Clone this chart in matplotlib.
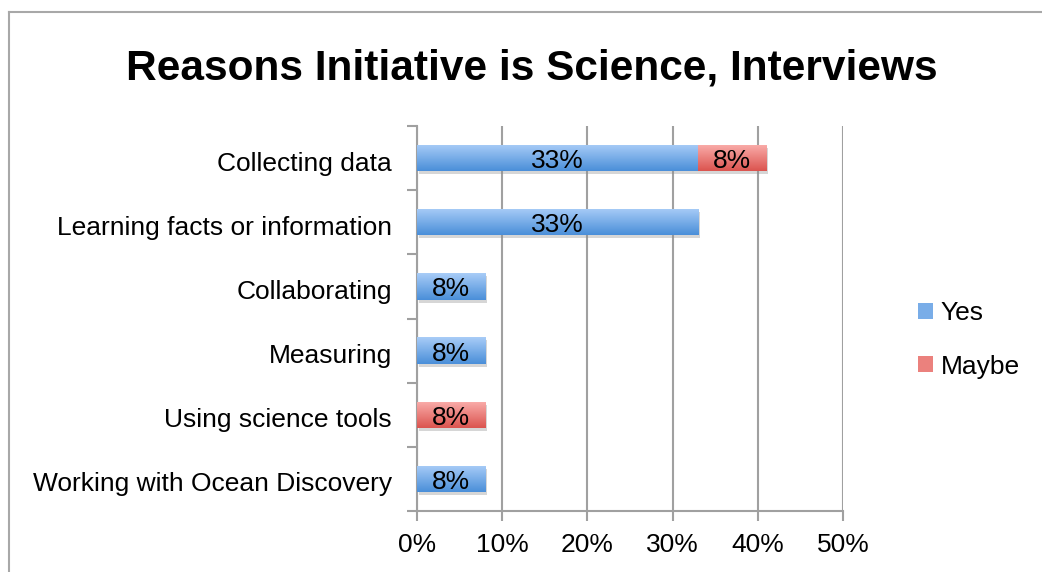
import numpy as np
import matplotlib
matplotlib.use("Agg")
from matplotlib import pyplot as plt
from matplotlib import transforms
from matplotlib.lines import Line2D
from matplotlib.patches import Patch

# data, top to bottom
categories = [
    "Collecting data",
    "Learning facts or information",
    "Collaborating",
    "Measuring",
    "Using science tools",
    "Working with Ocean Discovery",
]
yes = [33, 33, 8, 8, 0, 8]
maybe = [8, 0, 0, 0, 8, 0]
xticks = [0, 10, 20, 30, 40, 50]

plt.rcParams["font.family"] = ["Liberation Sans", "DejaVu Sans"]

blue_top, blue_bot = np.array([0.66, 0.80, 0.97]), np.array([0.29, 0.56, 0.85])
red_top, red_bot = np.array([0.98, 0.68, 0.67]), np.array([0.86, 0.33, 0.31])
grid_col = "#a0a0a0"
fs = 19

fig = plt.figure(figsize=(10.42, 5.72), dpi=100)
ax = fig.add_axes([417 / 1042, 1 - 511 / 572, 426 / 1042, 385 / 572])

y = np.arange(len(categories))
h = 0.41
text_tr = transforms.offset_copy(ax.transData, fig=fig, x=0, y=-3, units="dots")


def grad_bar(left, width, yc, c_top, c_bot):
    if width <= 0:
        return
    # soft shadow under the bar
    shadow_tr = transforms.offset_copy(ax.transData, fig=fig, x=2, y=-3, units="dots")
    ax.barh(yc, width, left=left, height=h, color="0.55", alpha=0.35,
            transform=shadow_tr, zorder=2, linewidth=0)
    bar = ax.barh(yc, width, left=left, height=h, color="none", linewidth=0, zorder=3)[0]
    t = np.linspace(0, 1, 64)[:, None]
    img = (c_top * (1 - t) + c_bot * t)[:, None, :]
    im = ax.imshow(img, extent=[left, left + width, yc + h / 2, yc - h / 2],
                   aspect="auto", origin="upper", zorder=3, interpolation="bilinear")
    im.set_clip_path(bar)
    ax.text(left + width / 2, yc, f"{width}%", ha="center", va="center",
            fontsize=fs, color="black", zorder=5, transform=text_tr)


for i in range(len(categories)):
    grad_bar(0, yes[i], y[i], blue_top, blue_bot)
    grad_bar(yes[i], maybe[i], y[i], red_top, red_bot)

ax.set_xlim(0, 50)
ax.set_ylim(len(categories) - 0.5, -0.5)

ax.set_xticks(xticks)
ax.set_xticklabels([f"{v}%" for v in xticks], fontsize=fs)
ax.set_yticks(y)
ax.set_yticklabels(categories, fontsize=fs)
ax.set_yticks(np.arange(-0.5, len(categories)), minor=True)
ax.tick_params(axis="y", which="major", length=0, pad=18)
ax.tick_params(axis="y", which="minor", length=7, width=1.5, color=grid_col)
ax.tick_params(axis="x", length=7, width=1.5, color=grid_col, pad=9)
for lab in ax.get_yticklabels():
    lab.set_transform(lab.get_transform() + transforms.ScaledTranslation(0, -3 / 100, fig.dpi_scale_trans))

ax.grid(axis="x", color=grid_col, linewidth=1.5, zorder=1)
ax.set_axisbelow(True)
for s in ["top", "right"]:
    ax.spines[s].set_visible(False)
for s in ["left", "bottom"]:
    ax.spines[s].set_color(grid_col)
    ax.spines[s].set_linewidth(1.5)

handles = [Patch(facecolor=(blue_top + blue_bot) / 2, label="Yes"),
           Patch(facecolor=(red_top + red_bot) / 2, label="Maybe")]
fig.legend(handles=handles, loc="center left", bbox_to_anchor=(905 / 1042, 1 - 340 / 572),
           frameon=False, fontsize=fs, handlelength=0.55, handleheight=0.55,
           handletextpad=0.3, labelspacing=1.1, borderpad=0)

fig.suptitle("Reasons Initiative is Science, Interviews", x=532 / 1042, y=1 - 68 / 572,
             va="center", fontsize=30.5, fontweight="bold")

# outer frame
fig.add_artist(Line2D([9 / 1042, 9 / 1042], [0, 1 - 12 / 572], color="#a8a8a8", lw=1.5,
                      transform=fig.transFigure))
fig.add_artist(Line2D([9 / 1042, 1], [1 - 12 / 572, 1 - 12 / 572], color="#a8a8a8", lw=1.5,
                      transform=fig.transFigure))

fig.savefig("out.png", dpi=100)
